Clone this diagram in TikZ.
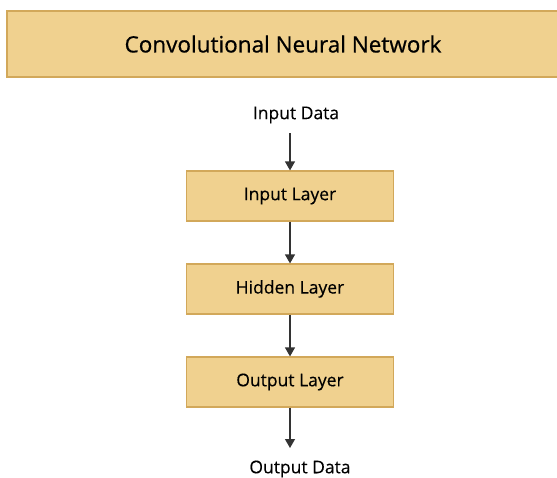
\documentclass[tikz,border=0pt]{standalone}
\usepackage{fontspec}
\setmainfont{Open Sans}
\usetikzlibrary{arrows.meta}
\definecolor{boxfill}{RGB}{240,209,143}
\definecolor{boxdraw}{RGB}{210,168,90}
\definecolor{linec}{RGB}{51,51,51}
\begin{document}
\begin{tikzpicture}[x=1pt,y=-1pt,
  layerbox/.style={draw=boxdraw,fill=boxfill,line width=1.2pt,minimum width=207pt,minimum height=50pt,font=\fontsize{17.5}{20}\selectfont\addfontfeature{FakeBold=0.4}},
  plain/.style={font=\fontsize{17.5}{20}\selectfont\addfontfeature{FakeBold=0.2}},
  flow/.style={draw=linec,line width=1.2pt,-{Triangle[length=9pt,width=10pt]}}]
\useasboundingbox (0,0) rectangle (557,477);
\begin{scope}
\clip (0,0) rectangle (557,477);
\node[draw=boxdraw,fill=boxfill,line width=1.5pt,minimum width=552pt,minimum height=66pt,font=\fontsize{22.5}{26}\selectfont\addfontfeature{FakeBold=0.6}] (title) at (283,44) {Convolutional Neural Network};
\end{scope}
\node[plain] (indata) at (296,115) {Input Data};
\node[layerbox] (inl) at (290,196) {Input Layer};
\node[layerbox] (hid) at (290,289) {Hidden Layer};
\node[layerbox] (outl) at (290,382) {Output Layer};
\node[plain] (outdata) at (300,469) {Output Data};
\coordinate (instart) at (290,133);
\coordinate (outend) at (290,448);
\draw[flow] (instart) -- (inl.north);
\draw[flow] (inl) -- (hid);
\draw[flow] (hid) -- (outl);
\draw[flow] (outl.south) -- (outend);
\end{tikzpicture}
\end{document}
